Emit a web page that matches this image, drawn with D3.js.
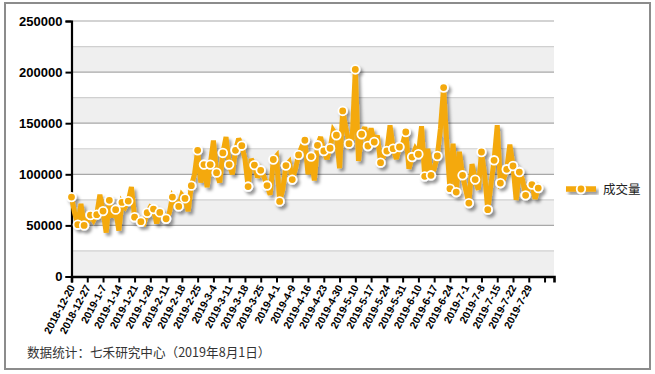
<!DOCTYPE html>
<html>
<head>
<meta charset="utf-8">
<script src="https://cdn.jsdelivr.net/npm/d3@7"></script>
<style>
  html, body { margin: 0; padding: 0; background: #fff; }
  svg { display: block; font-family: "Liberation Sans", Arial, sans-serif; }
</style>
</head>
<body>
<svg id="grafico" width="655" height="374"></svg>
<script>
// 成交量, one value per trading day, 2018-12-20 .. 2019-8-1
const volume = [
  77700, 62000, 50700, 71000, 50000, 53000, 60100, 55000, 60500, 80000,
  64000, 43000, 74500, 58000, 65400, 45000, 72500, 68000, 73800, 87500,
  58000, 57000, 53600, 52000, 62400, 68000, 66000, 52000, 62700, 60000,
  56500, 62000, 77700, 72000, 68600, 80000, 76400, 64000, 88900, 100000,
  123500, 92000, 109500, 87500, 109500, 133000, 101600, 92000, 120900, 136500,
  109500, 100000, 123500, 135000, 128000, 115000, 88000, 115000, 109000, 97000,
  103900, 98000, 89000, 80000, 114500, 118000, 73500, 85000, 108500, 112000,
  94800, 105000, 119000, 127000, 133300, 100000, 117300, 94000, 128400, 136500,
  122800, 115000, 125500, 143000, 138200, 106000, 162000, 145000, 130000, 135000,
  202600, 113000, 139200, 146000, 127700, 145000, 131600, 138000, 111400, 118000,
  122800, 148000, 125100, 115000, 126700, 130000, 141400, 105500, 116900, 125000,
  119600, 147000, 98000, 125000, 99000, 105000, 117900, 145000, 184900, 130000,
  85900, 130000, 82600, 122000, 99000, 85000, 71800, 110000, 94800, 85000,
  121800, 100000, 65400, 90000, 113700, 148000, 91400, 95000, 104900, 129000,
  108100, 75000, 102200, 95000, 79400, 88000, 89900, 76000, 86500
];

// a label every 5 trading days
const tickLabels = [
  "2018-12-20", "2018-12-27", "2019-1-7", "2019-1-14", "2019-1-21", "2019-1-28",
  "2019-2-11", "2019-2-18", "2019-2-25", "2019-3-4", "2019-3-11", "2019-3-18",
  "2019-3-25", "2019-4-1", "2019-4-9", "2019-4-16", "2019-4-23", "2019-4-30",
  "2019-5-10", "2019-5-17", "2019-5-24", "2019-5-31", "2019-6-10", "2019-6-17",
  "2019-6-24", "2019-7-1", "2019-7-8", "2019-7-15", "2019-7-22", "2019-7-29"
];

const yTicks = [0, 50000, 100000, 150000, 200000, 250000];
const seriesName = "成交量";
const footnote = "数据统计：七禾研究中心（2019年8月1日）";
const emptySlots = 5;   // blank rows after the last day

const cor = "#F4A90A";
const svg = d3.select("#grafico");

const esq = 71.5, dir = 554, topo = 21, base = 276.5;
const slots = volume.length + emptySlots;

const x = d3.scaleLinear().domain([0, slots - 1]).range([esq, dir]);
const y = d3.scaleLinear().domain([0, 250000]).range([base, topo]);

const defs = svg.append("defs");
defs.append("filter").attr("id", "sombra")
    .attr("x", "-5%").attr("y", "-5%").attr("width", "115%").attr("height", "120%")
  .append("feDropShadow")
    .attr("dx", 2.5).attr("dy", 3).attr("stdDeviation", 1.5)
    .attr("flood-color", "#000").attr("flood-opacity", 0.4);

// outer frame
svg.append("rect")
    .attr("x", 5).attr("y", 3).attr("width", 645).attr("height", 366)
    .attr("fill", "#fff").attr("stroke", "#8c8c8c").attr("stroke-width", 2);

// bands + grid every 25000
const steps = d3.range(0, 250000, 25000);
svg.append("g").selectAll("rect")
    .data(steps.filter((d, i) => i % 2 === 0))
    .join("rect")
    .attr("x", esq).attr("width", dir - esq)
    .attr("y", d => y(d + 25000)).attr("height", d => y(d) - y(d + 25000))
    .attr("fill", "#efefef");

svg.append("g").selectAll("line")
    .data(d3.range(25000, 250001, 25000))
    .join("line")
    .attr("x1", esq).attr("x2", dir)
    .attr("y1", d => y(d)).attr("y2", d => y(d))
    .attr("stroke", d => d % 50000 === 0 ? "#a8a8a8" : "#d0d0d0")
    .attr("stroke-width", 1.2);

// y axis
const yAxis = svg.append("g")
    .attr("transform", `translate(${esq},0)`)
    .call(d3.axisLeft(y).tickValues(yTicks).tickFormat(d3.format("d")).tickSize(6).tickPadding(3));
yAxis.select(".domain").attr("stroke", "#000").attr("stroke-width", 2.2);
yAxis.selectAll(".tick line").attr("stroke", "#000").attr("stroke-width", 2);
yAxis.selectAll(".tick text")
    .attr("font-size", 13).attr("font-weight", "bold").attr("fill", "#000")
    .attr("font-family", "Liberation Sans, Arial, sans-serif");

// x axis
const tickIdx = d3.range(0, slots - 1, 5);
const xAxis = svg.append("g")
    .attr("transform", `translate(0,${base})`)
    .call(d3.axisBottom(x).tickValues(tickIdx).tickSizeOuter(0).tickSize(6)
        .tickFormat(d => tickLabels[d / 5] || ""));
xAxis.select(".domain").attr("stroke", "#000").attr("stroke-width", 2.6);
xAxis.selectAll(".tick line").attr("stroke", "#000").attr("stroke-width", 2);
xAxis.selectAll(".tick text")
    .attr("font-size", 10.5).attr("font-weight", "bold").attr("fill", "#000")
    .attr("font-family", "Liberation Sans, Arial, sans-serif")
    .attr("text-anchor", "end")
    .attr("dy", "0.35em")
    .attr("transform", "translate(0,9) rotate(-62)")
    .attr("y", 0).attr("x", 0);

// series
const serie = svg.append("g").attr("filter", "url(#sombra)");
serie.append("path")
    .datum(volume)
    .attr("fill", "none")
    .attr("stroke", cor)
    .attr("stroke-width", 5)
    .attr("stroke-linejoin", "miter")
    .attr("stroke-miterlimit", 3)
    .attr("d", d3.line().x((d, i) => x(i)).y(d => y(d)));

serie.selectAll("circle")
    .data(volume.map((v, i) => ({ i, v })).filter(d => d.i % 2 === 0))
    .join("circle")
    .attr("cx", d => x(d.i)).attr("cy", d => y(d.v))
    .attr("r", 4.3)
    .attr("fill", cor)
    .attr("stroke", "#fff").attr("stroke-width", 1.8);

// legend
const leg = svg.append("g").attr("transform", "translate(566,189)");
const legMark = leg.append("g").attr("filter", "url(#sombra)");
legMark.append("line").attr("x1", 0).attr("x2", 30)
    .attr("stroke", cor).attr("stroke-width", 5.5);
legMark.append("circle").attr("cx", 15).attr("r", 4.3)
    .attr("fill", cor).attr("stroke", "#fff").attr("stroke-width", 1.8);
leg.append("text")
    .attr("x", 37).attr("y", 4.5)
    .attr("font-size", 12.5).attr("fill", "#222")
    .attr("font-family", "Noto Sans CJK SC, sans-serif")
    .text(seriesName);

// source
svg.append("text")
    .attr("x", 27).attr("y", 357)
    .attr("font-size", 12.6).attr("fill", "#333")
    .attr("font-family", "Noto Sans CJK SC, sans-serif")
    .text(footnote);
</script>
</body>
</html>
